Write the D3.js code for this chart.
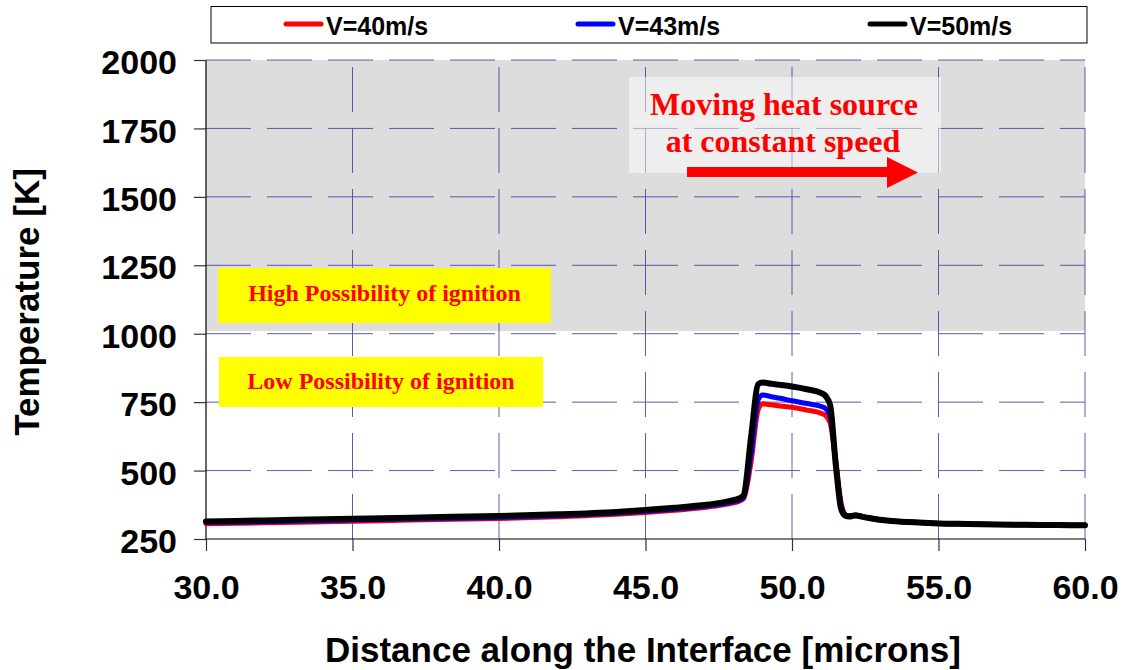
<!DOCTYPE html>
<html>
<head>
<meta charset="utf-8">
<script src="https://cdn.jsdelivr.net/npm/d3@7"></script>
<style>
  html, body { margin: 0; padding: 0; background: #fff; }
  svg { display: block; }
</style>
</head>
<body>
<svg id="chart" width="1125" height="670"></svg>
<script>
// ---------- data ----------
const seriesNames = ["V=40m/s", "V=43m/s", "V=50m/s"];
const seriesColors = ["#ff0000", "#0000ff", "#000000"];
const distance = [30,32,34,36,38,40,42,44,45,46,47,47.5,48,48.2,48.35,48.6,48.85,49.0,49.3,49.6,50,50.5,51,51.15,51.3,51.5,51.68,51.82,51.95,52.15,52.5,53,54,55,56,57,58,59,60];
const tempV40 = [306,309,313,317,321,325,331,340,347,355,365,372,382,388,398,530,725,744,740,736,731,721,709,701,675,530,380,340,334,338,330,320,312,307,305,303,302,301,300];
const tempV43 = [310,313,317,321,325,329,335,344,351,359,369,376,386,392,402,560,760,776,770,764,755,745,734,726,700,520,370,338,333,337,330,320,312,307,305,303,302,301,300];
const tempV50 = [314,318,322,326,330,334,340,349,356,364,374,381,392,398,410,620,816,822,817,813,807,797,783,772,740,515,358,335,332,336,329,320,312,307,305,303,302,301,300];
const xTicks = [30,35,40,45,50,55,60];
const yTicks = [250,500,750,1000,1250,1500,1750,2000];
const xLabel = "Distance along the Interface [microns]";
const yLabel = "Temperature [K]";
const highText = "High Possibility of ignition";
const lowText = "Low Possibility of ignition";
const noteLines = ["Moving heat source", "at constant speed"];
const ignitionThreshold = 1010;

// ---------- layout ----------
const svg = d3.select("#chart");
const x = d3.scaleLinear().domain([30, 60]).range([206, 1085]);
const y = d3.scaleLinear().domain([250, 2000]).range([539, 60]);
const sans = "'Liberation Sans', Arial, Helvetica, sans-serif";
const serif = "'Liberation Serif', 'Times New Roman', serif";

// gray high-ignition region
svg.append("rect")
  .attr("x", x(30)).attr("y", y(2000))
  .attr("width", x(60) - x(30)).attr("height", y(ignitionThreshold) - y(2000))
  .attr("fill", "#dddddd");

// gridlines
const grid = svg.append("g").attr("stroke", "#4040a0").attr("stroke-width", 1).attr("stroke-dasharray", "45,16").attr("opacity", 0.85);
grid.selectAll("line.h").data(yTicks.filter(d => d > 250)).join("line")
  .attr("x1", x(30)).attr("x2", x(60))
  .attr("y1", d => y(d)).attr("y2", d => y(d));
grid.selectAll("line.v").data(xTicks.filter(d => d > 30)).join("line")
  .attr("x1", d => x(d)).attr("x2", d => x(d))
  .attr("y1", y(250)).attr("y2", y(2000));

// annotation boxes
function yellowBox(x0, y0, w, h, text, baseline) {
  svg.append("rect").attr("x", x0).attr("y", y0).attr("width", w).attr("height", h).attr("fill", "#ffff00");
  svg.append("text").attr("x", x0 + w / 2).attr("y", baseline)
    .attr("text-anchor", "middle").attr("fill", "#ff0000")
    .attr("font-family", serif).attr("font-weight", "bold").attr("font-size", 24)
    .text(text);
}
yellowBox(218, 268, 333, 55, highText, 301);
yellowBox(219, 357, 324, 50, lowText, 389);

svg.append("rect").attr("x", 629).attr("y", 77).attr("width", 312).attr("height", 96)
  .attr("fill", "#ffffff").attr("opacity", 0.5);
svg.append("text").attr("x", 784).attr("y", 115).attr("text-anchor", "middle")
  .attr("fill", "#ff0000").attr("font-family", serif).attr("font-weight", "bold").attr("font-size", 32)
  .text(noteLines[0]);
svg.append("text").attr("x", 783).attr("y", 152).attr("text-anchor", "middle")
  .attr("fill", "#ff0000").attr("font-family", serif).attr("font-weight", "bold").attr("font-size", 32)
  .text(noteLines[1]);
svg.append("polygon")
  .attr("points", "687,167 887,167 887,157 918,172.5 887,188 887,177 687,177")
  .attr("fill", "#ff0000");

// axes
const yAxis = svg.append("g").attr("transform", `translate(${x(30)},0)`)
  .call(d3.axisLeft(y).tickValues(yTicks).tickSize(12).tickPadding(17).tickFormat(d3.format("d")));
const xAxis = svg.append("g").attr("transform", `translate(0,${y(250)})`)
  .call(d3.axisBottom(x).tickValues(xTicks).tickSize(12).tickPadding(24).tickFormat(d3.format(".1f")));
[yAxis, xAxis].forEach(a => {
  a.select(".domain").attr("stroke", "#000").attr("stroke-width", 1.2);
  a.selectAll(".tick line").attr("stroke", "#333").attr("stroke-width", 1.2);
  a.selectAll(".tick text").attr("font-family", sans).attr("font-weight", "bold")
    .attr("font-size", 34).attr("fill", "#000");
});
yAxis.select(".domain").attr("d", `M0,${y(250)}V${y(2000)}`);
yAxis.selectAll(".tick line").attr("x1", 0).attr("x2", -12);
xAxis.select(".domain").attr("d", `M${x(30)},0H${x(60)}`);
yAxis.selectAll(".tick text").attr("dy", "0.40em");

// lines
const series = [tempV40, tempV43, tempV50];
const widths = [5, 5, 6];
const line = d3.line().x((d, i) => x(distance[i])).y(d => y(d)).curve(d3.curveMonotoneX);
series.forEach((s, k) => {
  svg.append("path").datum(s).attr("d", line)
    .attr("fill", "none").attr("stroke", seriesColors[k]).attr("stroke-width", widths[k])
    .attr("stroke-linejoin", "round").attr("stroke-linecap", "round");
});

// axis titles
svg.append("text").attr("x", 643).attr("y", 662).attr("text-anchor", "middle")
  .attr("font-family", sans).attr("font-weight", "bold").attr("font-size", 35).text(xLabel);
svg.append("text").attr("transform", "translate(39,302) rotate(-90)").attr("text-anchor", "middle")
  .attr("font-family", sans).attr("font-weight", "bold").attr("font-size", 35).text(yLabel);

// legend
svg.append("rect").attr("x", 211).attr("y", 6.5).attr("width", 876).attr("height", 36.5)
  .attr("fill", "#fff").attr("stroke", "#000").attr("stroke-width", 1);
const legendX = [286, 578, 870];
seriesNames.forEach((n, k) => {
  svg.append("line").attr("x1", legendX[k]).attr("x2", legendX[k] + 35)
    .attr("y1", 24).attr("y2", 24)
    .attr("stroke", seriesColors[k]).attr("stroke-width", 5).attr("stroke-linecap", "round");
  svg.append("text").attr("x", legendX[k] + 40).attr("y", 35)
    .attr("font-family", sans).attr("font-weight", "bold").attr("font-size", 25).text(n);
});
</script>
</body>
</html>
